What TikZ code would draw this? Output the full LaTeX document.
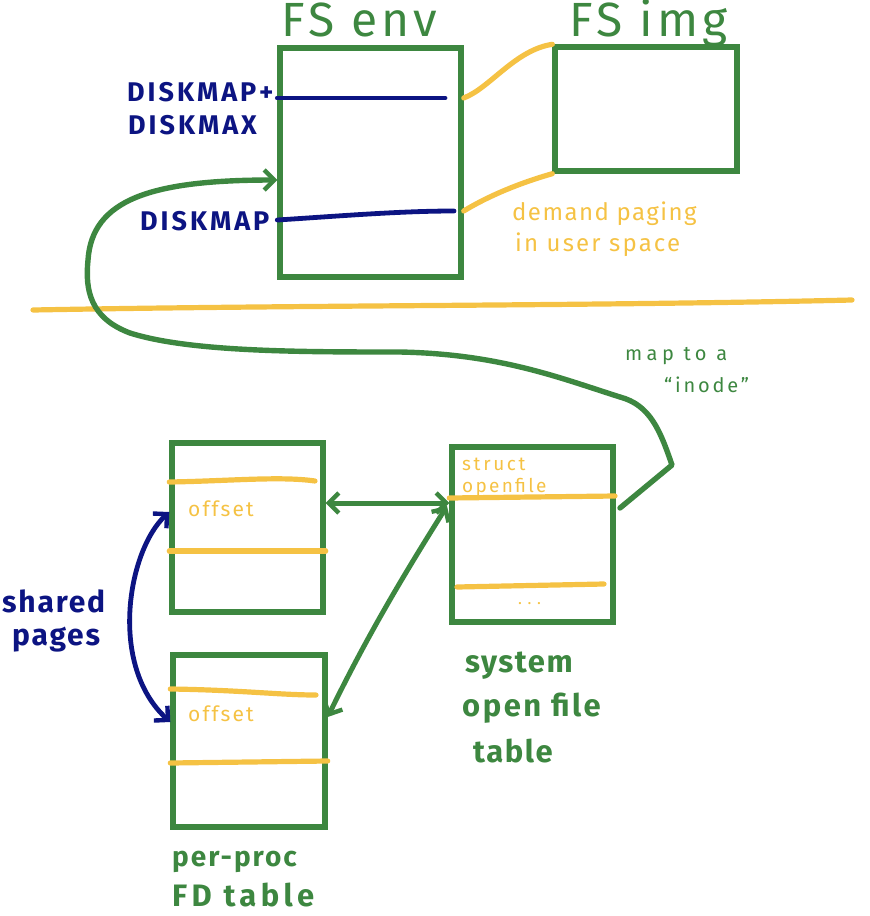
\documentclass[tikz,border=0pt]{standalone}
\usepackage{fontspec}
\setmainfont{Fira Sans}
\usetikzlibrary{arrows.meta}
\definecolor{pgreen}{HTML}{3D8740}
\definecolor{pnavy}{HTML}{0C1482}
\definecolor{pyel}{HTML}{F5C244}
\newcommand\fsz[2]{\fontsize{#1}{#1}\selectfont\addfontfeature{LetterSpace=#2}}
\tikzset{
  tbox/.style={draw=pgreen, line width=5.4pt, inner sep=0pt, rectangle},
  gline/.style={draw=pgreen, line width=5pt, line cap=round, line join=round},
  yline/.style={draw=pyel, line width=5.2pt, line cap=round},
  nline/.style={draw=pnavy, line width=4.8pt, line cap=round},
  tip/.style={-{Straight Barb[length=10pt,width=20pt,line width=4.4pt]}},
  dtip/.style={{Straight Barb[length=10pt,width=20pt,line width=4.4pt]}-{Straight Barb[length=10pt,width=20pt,line width=4.4pt]}},
  gtitle/.style={text=pgreen, font=\fsz{48}{9}, anchor=base west, inner sep=0pt},
  navylab/.style={text=pnavy, font=\bfseries\fsz{27}{11}, anchor=base west, inner sep=0pt},
  ytext/.style={text=pyel, anchor=base west, inner sep=0pt},
  glab/.style={text=pgreen, anchor=base west, inner sep=0pt},
}
\begin{document}
\begin{tikzpicture}[x=1pt,y=-1pt]
\useasboundingbox (0,0) rectangle (870,916);

% boxes
\node[tbox, minimum width=181pt, minimum height=229pt] (env) at (370.5,162.5) {};
\node[tbox, minimum width=182pt, minimum height=124pt] (img) at (646,109) {};
\node[tbox, minimum width=151pt, minimum height=169pt] (fda) at (247.5,527.5) {};
\node[tbox, minimum width=152pt, minimum height=172pt] (fdb) at (249,741) {};
\node[tbox, minimum width=161pt, minimum height=175pt] (oft) at (532.5,534.5) {};

% titles
\node[gtitle] (tenv) at (281,36) {FS env};
\node[gtitle] (timg) at (569,36) {FS img};

% navy rows in FS env
\coordinate (n1a) at (env.west |- 0,98);
\coordinate (n1b) at (445,98);
\coordinate (n2a) at (env.west |- 0,220);
\coordinate (n2b) at (454,211);
\draw[nline] (n1a) -- (n1b);
\draw[nline] (n2a) .. controls (340,216) and (400,211) .. (n2b);
\node[navylab] (l1) at (127,101) {DISKMAP+};
\node[navylab] (l2) at (128,134) {DISKMAX};
\node[navylab] (l3) at (140,230) {DISKMAP};

% yellow mapping lines
\coordinate (y1a) at (env.east |- 0,98);
\coordinate (y2a) at (env.east |- 0,211);
\draw[yline] (y1a) .. controls (490,88) and (515,50) .. (img.north west);
\draw[yline] (y2a) .. controls (495,192) and (530,180) .. (img.south west);
\node[ytext, font=\fsz{24}{6}] (dp1) at (512,220) {demand paging};
\node[ytext, font=\fsz{24}{9}] (dp2) at (515,251) {in user space};

% separator
\coordinate (sepl) at (33,310);
\coordinate (sepr) at (852,300);
\draw[yline] (sepl) .. controls (300,305) and (600,306) .. (sepr);

% long green arrow
\coordinate (gs) at (620,508);
\coordinate (genv) at (env.west |- 0,180);
\draw[gline, line width=5.4pt, tip] (gs) -- (672,465)
  .. controls (660,430) and (650,405) .. (620,397)
  .. controls (560,378) and (500,354) .. (400,352)
  .. controls (300,352) and (190,352) .. (130,333)
  .. controls (90,318) and (85,290) .. (88,260)
  .. controls (92,200) and (150,180) .. (genv);
\node[glab, font=\fsz{20}{22}] (m1) at (625,360) {map to a};
\node[glab, font=\fsz{20}{14}] (m2) at (664,392) {“inode”};

% FD table A
\draw[yline] (fda.west |- 0,482) .. controls (230,481) and (280,476) .. (315,481);
\draw[yline] (fda.west |- 0,551) -- (fda.east |- 0,551);
\node[ytext, font=\fsz{21}{10}] (offa) at (188,516) {offset};
% FD table B
\draw[yline] (fdb.west |- 0,689) .. controls (240,690) and (280,695) .. (316,695);
\draw[yline] (fdb.west |- 0,763) -- (fdb.east |- 0,761);
\node[ytext, font=\fsz{21}{10}] (offb) at (188,721) {offset};

% system open file table
\node[ytext, font=\fsz{19}{14}] (st1) at (462,470) {struct};
\node[ytext, font=\fsz{19}{12}] (st2) at (462,492) {openfile};
\draw[yline] (oft.west |- 0,498) -- (615,496);
\draw[yline] (457,587) -- (604,584);
\node[ytext, font=\fsz{16}{0}] (dots) at (518,604) {. . .};

% arrows between tables
\coordinate (ha) at (fda.east |- 0,503);
\coordinate (hb) at (oft.west |- 0,503);
\draw[gline, dtip] (ha) -- (hb);
\coordinate (da) at (447,506);
\coordinate (db) at (fdb.east |- 0,717);
\draw[gline, dtip] (da) .. controls (410,565) and (370,630) .. (db);

% shared pages arrow
\coordinate (sa) at (fda.west |- 0,512);
\coordinate (sb) at (fdb.west |- 0,722);
\draw[nline, dtip] (sa) .. controls (128,550) and (108,665) .. (sb);
\node[navylab, font=\bfseries\fsz{30}{6}] (sh1) at (2,612) {shared};
\node[navylab, font=\bfseries\fsz{30}{6}] (sh2) at (12,645) {pages};

% captions
\node[glab, font=\bfseries\fsz{31}{5}] (c1) at (465,672) {system};
\node[glab, font=\bfseries\fsz{31}{8}] (c2) at (462,716) {open file};
\node[glab, font=\bfseries\fsz{31}{5}] (c3) at (473,762) {table};
\node[glab, font=\bfseries\fsz{28}{7}] (c4) at (172,866) {per-proc};
\node[glab, font=\bfseries\fsz{31}{14}] (c5) at (172,906) {FD table};
\end{tikzpicture}
\end{document}
